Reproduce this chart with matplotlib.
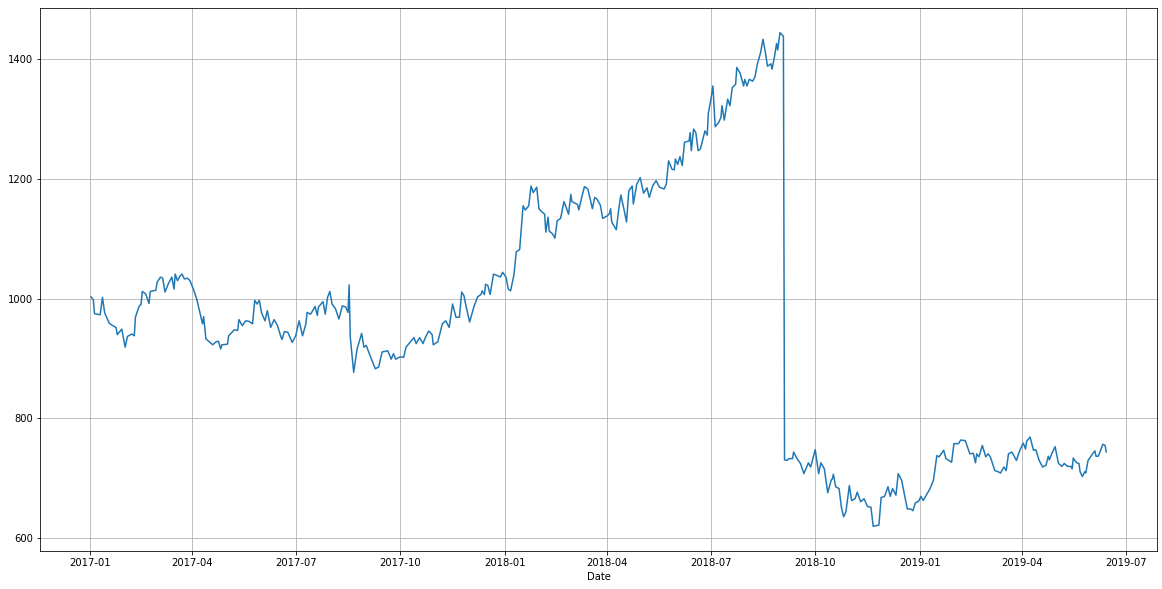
import matplotlib
matplotlib.use('Agg')
import matplotlib.pyplot as plt
import matplotlib.dates as mdates
import numpy as np
import pandas as pd


# days since 2017-01-01
days = [1, 3, 4, 9, 11, 13, 17, 20, 23, 24, 28, 31, 33, 37, 39, 40, 43, 45, 46, 49,
        52, 53, 58, 59, 62, 64, 66, 69, 72, 74, 75, 77, 79, 81, 83, 86, 88, 91, 94, 99,
        100, 102, 108, 111, 113, 115, 116, 121, 122, 125, 127, 130, 131, 134, 137, 140, 143, 145, 147, 149,
        151, 154, 156, 159, 162, 165, 168, 169, 171, 174, 178, 181, 184, 187, 190, 191, 194, 196, 198, 200,
        201, 205, 207, 209, 211, 213, 216, 219, 222, 225, 227, 228, 229, 232, 235, 239, 241, 243, 247, 251,
        254, 257, 262, 265, 267, 269, 273, 276, 278, 282, 285, 287, 290, 293, 295, 298, 301, 302, 306, 310,
        313, 316, 319, 322, 325, 327, 329, 331, 334, 338, 341, 344, 345, 347, 348, 350, 352, 355, 359, 361,
        363, 366, 368, 370, 373, 375, 378, 381, 383, 386, 388, 390, 393, 395, 398, 400, 401, 403, 404, 407,
        409, 411, 414, 417, 419, 421, 423, 424, 429, 430, 433, 435, 438, 442, 444, 446, 449, 451, 455, 457,
        458, 459, 463, 465, 467, 470, 472, 474, 477, 478, 481, 484, 487, 490, 492, 495, 498, 501, 505, 507,
        509, 512, 514, 515, 517, 519, 521, 523, 527, 528, 529, 531, 533, 535, 537, 541, 543, 544, 546, 548,
        550, 553, 555, 556, 558, 561, 563, 565, 568, 569, 572, 575, 576, 578, 580, 583, 585, 587, 590, 592,
        594, 596, 599, 600, 602, 604, 605, 607, 610, 611, 613, 615, 618, 619, 622, 625, 628, 632, 634, 638,
        641, 643, 646, 649, 652, 653, 654, 656, 659, 661, 663, 665, 668, 670, 673, 675, 678, 681, 684, 687,
        689, 694, 696, 699, 702, 704, 706, 709, 711, 714, 717, 719, 722, 724, 726, 729, 731, 733, 736, 739,
        742, 745, 747, 751, 753, 758, 760, 764, 766, 770, 772, 774, 777, 779, 780, 782, 785, 788, 790, 792,
        796, 799, 801, 804, 806, 808, 811, 815, 818, 821, 823, 824, 827, 830, 832, 835, 838, 841, 843, 844,
        846, 849, 852, 855, 857, 860, 863, 864, 865, 868, 870, 871, 873, 875, 876, 878, 882, 884, 885, 887,
        891, 893, 894]

values = [1003, 998, 975, 973, 1002, 976, 959, 955, 952, 940, 949, 919, 937, 941, 938, 969, 986, 991, 1012, 1008,
          992, 1012, 1014, 1027, 1036, 1034, 1011, 1025, 1036, 1016, 1041, 1030, 1037, 1041, 1033, 1034, 1030, 1016, 999, 958,
          970, 933, 923, 928, 929, 916, 923, 924, 938, 944, 948, 947, 965, 955, 963, 962, 958, 997, 991, 997,
          976, 963, 980, 952, 965, 955, 936, 932, 945, 944, 927, 938, 963, 938, 958, 977, 974, 980, 987, 972,
          986, 995, 974, 1002, 1012, 991, 983, 966, 988, 986, 977, 1023, 936, 877, 916, 942, 919, 922, 902, 883,
          886, 911, 913, 899, 908, 899, 903, 902, 919, 928, 935, 925, 935, 925, 935, 946, 940, 923, 928, 958,
          963, 952, 991, 969, 969, 1011, 1005, 986, 961, 988, 1003, 1007, 1013, 1007, 1024, 1022, 1007, 1041, 1038, 1036,
          1044, 1036, 1016, 1013, 1040, 1078, 1082, 1155, 1148, 1155, 1188, 1177, 1186, 1150, 1144, 1141, 1111, 1136, 1113, 1108,
          1101, 1130, 1134, 1162, 1152, 1141, 1174, 1162, 1157, 1148, 1172, 1187, 1183, 1150, 1169, 1166, 1156, 1134, 1138, 1142,
          1150, 1128, 1115, 1147, 1173, 1147, 1128, 1180, 1188, 1158, 1191, 1202, 1176, 1185, 1169, 1188, 1197, 1186, 1183, 1191,
          1230, 1216, 1215, 1233, 1224, 1237, 1222, 1261, 1263, 1277, 1247, 1283, 1277, 1247, 1250, 1280, 1273, 1310, 1330, 1355,
          1287, 1294, 1302, 1322, 1298, 1333, 1322, 1352, 1358, 1386, 1376, 1355, 1366, 1355, 1366, 1363, 1370, 1391, 1411, 1433,
          1413, 1388, 1392, 1383, 1402, 1426, 1415, 1444, 1438, 731, 730, 733, 733, 744, 733, 725, 708, 726, 719, 748,
          708, 726, 716, 676, 697, 699, 707, 686, 683, 652, 636, 644, 688, 663, 666, 677, 661, 666, 653, 652,
          620, 622, 668, 670, 686, 670, 683, 672, 708, 697, 668, 649, 649, 646, 659, 662, 670, 663, 673, 683,
          697, 738, 736, 747, 733, 727, 758, 758, 764, 763, 752, 741, 742, 726, 741, 736, 755, 736, 741, 736,
          713, 711, 709, 719, 713, 741, 744, 730, 747, 759, 749, 762, 769, 747, 748, 730, 719, 722, 737, 731,
          741, 753, 725, 720, 725, 720, 720, 716, 734, 726, 725, 711, 703, 711, 709, 730, 741, 746, 737, 737,
          757, 755, 744]

dates = pd.Timestamp('2017-01-01') + pd.to_timedelta(days, unit='D')

fig = plt.figure(figsize=(1162 / 72, 589 / 72), dpi=72)
ax = fig.add_axes([0.0347, 0.0645, 0.961, 0.922])
ax.plot(dates, values, color='#1f77b4', linewidth=1.5)
ax.xaxis.set_major_locator(mdates.MonthLocator(bymonth=[1, 4, 7, 10]))
ax.xaxis.set_major_formatter(mdates.DateFormatter('%Y-%m'))
ax.set_xlabel('Date')
ax.grid(True)

fig.savefig('out.png', dpi=72)
